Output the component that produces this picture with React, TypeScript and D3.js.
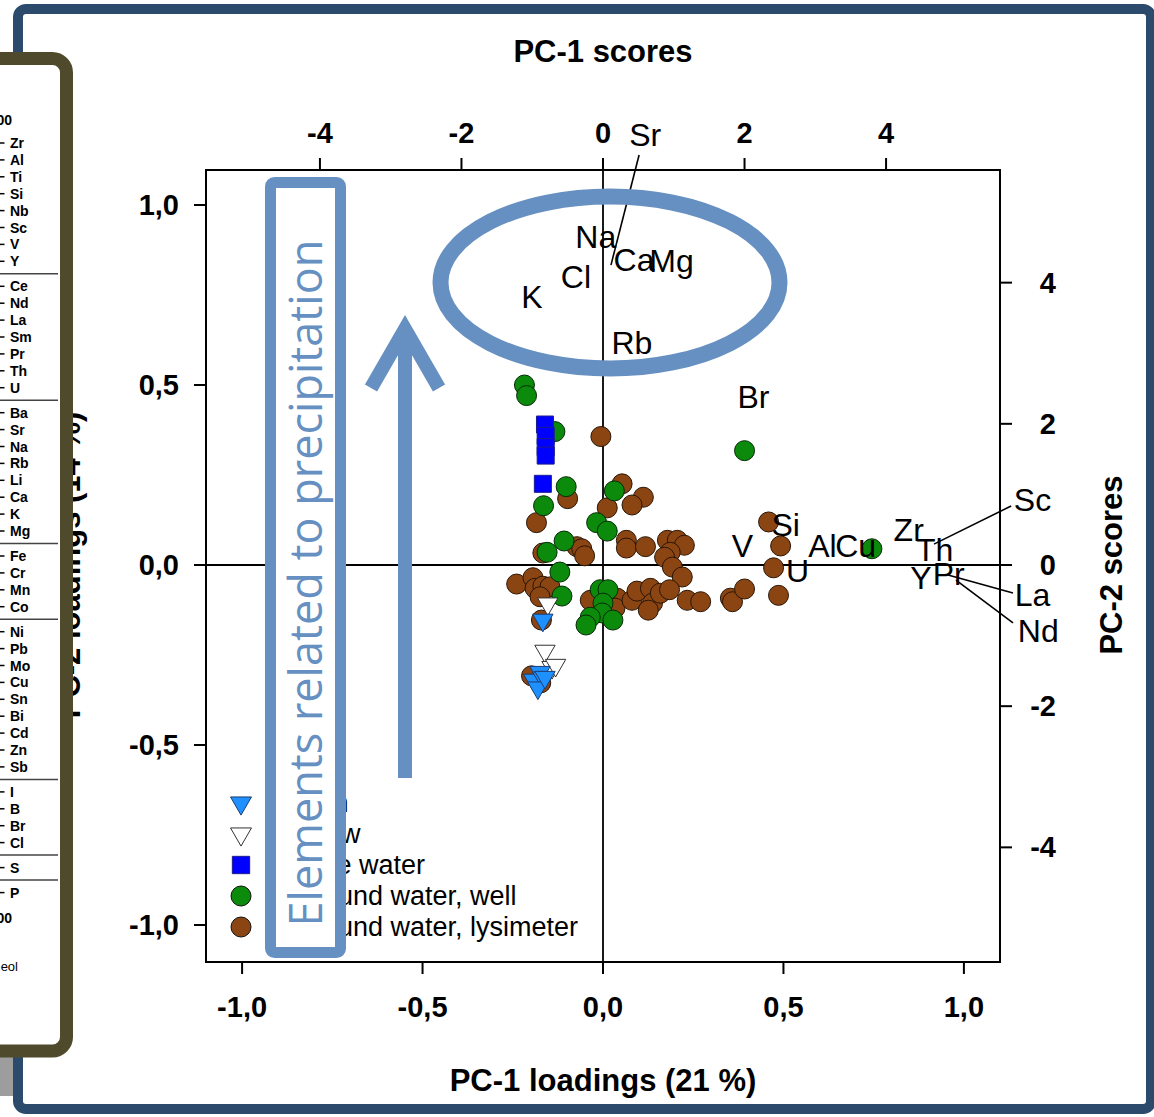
import React from "react";
import * as d3 from "d3";

const W = 1154;
const H = 1117;

// Axis ticks
const loadingTicks = [-1, -0.5, 0, 0.5, 1];
const scoreTicks = [-4, -2, 0, 2, 4];

// Sample scores (PC-1, PC-2) per water type
const rainScores: [number, number][] = [
  [-0.85, -0.78], [-0.89, -1.52], [-0.98, -1.63], [-0.85, -1.6], [-0.92, -1.74], [-0.82, -1.59],
];
const snowScores: [number, number][] = [
  [-0.78, -0.55], [-0.82, -1.22], [-0.72, -1.45], [-0.67, -1.42],
];
const lakeScores: [number, number][] = [
  [-0.82, 1.99], [-0.81, 1.83], [-0.81, 1.67], [-0.81, 1.55], [-0.85, 1.15],
];
const wellScores: [number, number][] = [
  [-1.11, 2.55], [-1.08, 2.4], [-0.68, 1.89], [-0.52, 1.11], [-0.84, 0.84], [0.16, 1.05],
  [-0.09, 0.6], [0.06, 0.48], [-0.55, 0.34], [-0.79, 0.18], [-0.61, -0.1], [-0.58, -0.44],
  [-0.04, -0.35], [0.07, -0.35], [0.0, -0.54], [-0.01, -0.68], [-0.18, -0.74], [-0.24, -0.85],
  [0.14, -0.78], [2.0, 1.62], [3.8, 0.23],
];
const lysimeterScores: [number, number][] = [
  [-0.03, 1.82], [0.27, 1.15], [0.57, 0.96], [0.41, 0.85], [-0.5, 0.94], [0.06, 0.81],
  [-0.94, 0.6], [0.33, 0.35], [0.33, 0.24], [0.6, 0.26], [0.91, 0.35], [1.05, 0.35],
  [1.15, 0.28], [0.95, 0.18], [0.87, 0.11], [0.98, -0.03], [1.12, -0.17], [-0.37, 0.26],
  [-0.3, 0.23], [-0.26, 0.13], [-0.85, 0.17], [-1.22, -0.27], [-0.99, -0.18], [-0.96, -0.33],
  [-0.85, -0.3], [-0.75, -0.31], [-0.89, -0.45], [-0.87, -0.78], [-0.18, -0.5], [0.2, -0.47],
  [0.17, -0.61], [0.41, -0.5], [0.48, -0.37], [0.67, -0.33], [0.7, -0.54], [0.64, -0.64],
  [0.81, -0.4], [0.94, -0.35], [1.19, -0.5], [1.38, -0.52], [1.8, -0.47], [1.83, -0.52],
  [2.0, -0.34], [2.34, 0.61], [2.51, 0.27], [2.41, -0.04], [2.48, -0.43], [-1.01, -1.57],
  [-0.88, -1.67],
];

// Element loadings (PC-1, PC-2) labelled in place
const elementNames = ["Na", "Ca", "Mg", "Cl", "K", "Rb", "Br", "Si", "V", "Al", "Cu", "U", "Zr", "Th", "Y", "Pr"];
const elementPC1 = [-0.02, 0.086, 0.19, -0.075, -0.197, 0.08, 0.417, 0.506, 0.386, 0.608, 0.7, 0.539, 0.847, 0.919, 0.881, 0.958];
const elementPC2 = [0.91, 0.847, 0.845, 0.8, 0.744, 0.617, 0.467, 0.111, 0.053, 0.053, 0.053, -0.017, 0.097, 0.042, -0.036, -0.025];

// Element loadings labelled through a leader line
const leaderNames = ["Sr", "Sc", "La", "Nd"];
const leaderPC1 = [0.022, 0.917, 0.956, 0.978];
const leaderPC2 = [0.833, 0.058, -0.028, -0.042];
const leaderEndPC1 = [0.1, 1.131, 1.136, 1.136];
const leaderEndPC2 = [1.139, 0.164, -0.078, -0.161];
const leaderLabelPC1 = [0.117, 1.19, 1.19, 1.206];
const leaderLabelPC2 = [1.194, 0.18, -0.083, -0.183];

const legendLabels = ["Rain", "Snow", "Lake water", "Ground water, well", "Ground water, lysimeter"];

// Element groups listed in the side panel
const panelGroups = [
  ["Zr", "Al", "Ti", "Si", "Nb", "Sc", "V", "Y"],
  ["Ce", "Nd", "La", "Sm", "Pr", "Th", "U"],
  ["Ba", "Sr", "Na", "Rb", "Li", "Ca", "K", "Mg"],
  ["Fe", "Cr", "Mn", "Co"],
  ["Ni", "Pb", "Mo", "Cu", "Sn", "Bi", "Cd", "Zn", "Sb"],
  ["I", "B", "Br", "Cl"],
  ["S"],
  ["P"],
];

const FONT = "'Liberation Sans', Arial, Helvetica, sans-serif";
const NOTE = "#6690c1";
const GREEN = "#0b8a0b";
const BROWN = "#8b4513";

const locale = d3.formatLocale({ decimal: ",", thousands: ".", grouping: [3], currency: ["", ""], minus: "-" });
const fmtLoad = locale.format(".1f");
const fmtScore = locale.format("d");

export default function App() {
  const left = 206, right = 1000, top = 170, bottom = 962;
  const xL = d3.scaleLinear().domain([-1.1, 1.1]).range([left, right]);
  const yL = d3.scaleLinear().domain([-1.1, 1.1]).range([961, 169]);
  const xS = d3.scaleLinear().domain([-5.61, 5.61]).range([left, right]);
  const yS = d3.scaleLinear().domain([-5.61, 5.61]).range([961, 169]);

  const tri = d3.symbol(d3.symbolTriangle, 180)() as string;
  const sq = d3.symbol(d3.symbolSquare, 289)() as string;
  const legendTri = d3.symbol(d3.symbolTriangle, 190)() as string;
  const legendSq = d3.symbol(d3.symbolSquare, 300)() as string;

  // side panel rows
  const panelRows: { name: string; y: number }[] = [];
  const panelSeps: number[] = [];
  let idx = 0;
  panelGroups.forEach((g, gi) => {
    g.forEach((name) => {
      panelRows.push({ name, y: 143 + 16.9 * idx + 8.1 * gi });
      idx++;
    });
    if (gi < panelGroups.length - 1) {
      const lastY = 143 + 16.9 * (idx - 1) + 8.1 * gi;
      const nextY = 143 + 16.9 * idx + 8.1 * (gi + 1);
      panelSeps.push((lastY + nextY) / 2);
    }
  });

  const legendY = (i: number) => 803 + 31 * i;

  return (
    <svg width={W} height={H} style={{ position: "absolute", left: 0, top: 0, display: "block" }} fontFamily={FONT}>
      <rect x={0} y={0} width={W} height={H} fill="#fff" />
      <rect x={0} y={1040} width={14} height={56} fill="#9d9d9d" />
      <rect x={18} y={9} width={1133} height={1100} rx={8} fill="none" stroke="#2c4a6b" strokeWidth={10} />

      {/* left axis title, mostly under the side panel */}
      <text transform={`translate(80,${yL(0)}) rotate(-90)`} textAnchor="middle" fontSize={31} fontWeight="bold">
        PC-2 loadings (14 %)
      </text>

      {/* plot frame and zero lines */}
      <rect x={left} y={top} width={right - left} height={bottom - top} fill="none" stroke="#000" strokeWidth={2} />
      <line x1={left} x2={right} y1={yL(0)} y2={yL(0)} stroke="#000" strokeWidth={1.8} />
      <line x1={xL(0)} x2={xL(0)} y1={top} y2={bottom} stroke="#000" strokeWidth={1.8} />

      {/* bottom / left loading axes */}
      {loadingTicks.map((v) => (
        <g key={"b" + v}>
          <line x1={xL(v)} x2={xL(v)} y1={bottom} y2={bottom + 12} stroke="#000" strokeWidth={2} />
          <text x={xL(v)} y={1007} textAnchor="middle" dominantBaseline="central" fontSize={29} fontWeight="bold">
            {fmtLoad(v)}
          </text>
          <line x1={left - 12} x2={left} y1={yL(v)} y2={yL(v)} stroke="#000" strokeWidth={2} />
          <text x={179} y={yL(v)} textAnchor="end" dominantBaseline="central" fontSize={29} fontWeight="bold">
            {fmtLoad(v)}
          </text>
        </g>
      ))}
      {/* top / right score axes */}
      {scoreTicks.map((v) => (
        <g key={"t" + v}>
          <line x1={xS(v)} x2={xS(v)} y1={top - 12} y2={top} stroke="#000" strokeWidth={2} />
          <text x={xS(v)} y={133} textAnchor="middle" dominantBaseline="central" fontSize={29} fontWeight="bold">
            {fmtScore(v)}
          </text>
          <line x1={right} x2={right + 12} y1={yS(v)} y2={yS(v)} stroke="#000" strokeWidth={2} />
          <text x={1056} y={yS(v)} textAnchor="end" dominantBaseline="central" fontSize={29} fontWeight="bold">
            {fmtScore(v)}
          </text>
        </g>
      ))}

      <text x={603} y={51} textAnchor="middle" dominantBaseline="central" fontSize={31} fontWeight="bold">
        PC-1 scores
      </text>
      <text x={603} y={1080} textAnchor="middle" dominantBaseline="central" fontSize={31} fontWeight="bold">
        PC-1 loadings (21 %)
      </text>
      <text transform={`translate(1111,${yS(0)}) rotate(-90)`} textAnchor="middle" dominantBaseline="central" fontSize={31} fontWeight="bold">
        PC-2 scores
      </text>

      {/* sample scores */}
      {lysimeterScores.map(([a, b], i) => (
        <circle key={"l" + i} cx={xS(a)} cy={yS(b)} r={10} fill={BROWN} stroke="#2a1505" strokeWidth={1} />
      ))}
      {wellScores.map(([a, b], i) => (
        <circle key={"w" + i} cx={xS(a)} cy={yS(b)} r={10} fill={GREEN} stroke="#062a06" strokeWidth={1} />
      ))}
      {lakeScores.map(([a, b], i) => (
        <path key={"k" + i} d={sq} transform={`translate(${xS(a)},${yS(b)})`} fill="#0000ff" stroke="#1b1b8c" strokeWidth={1} />
      ))}
      {snowScores.map(([a, b], i) => (
        <path key={"s" + i} d={tri} transform={`translate(${xS(a)},${yS(b)}) rotate(180)`} fill="#fff" stroke="#333" strokeWidth={1} />
      ))}
      {rainScores.map(([a, b], i) => (
        <path key={"r" + i} d={tri} transform={`translate(${xS(a)},${yS(b)}) rotate(180)`} fill="#1e90ff" stroke="#1b3c70" strokeWidth={1} />
      ))}

      {/* element loadings */}
      {elementNames.map((n, i) => (
        <text key={n} x={xL(elementPC1[i])} y={yL(elementPC2[i])} textAnchor="middle" dominantBaseline="central" fontSize={32}>
          {n}
        </text>
      ))}
      {leaderNames.map((n, i) => (
        <g key={n}>
          <line x1={xL(leaderPC1[i])} y1={yL(leaderPC2[i])} x2={xL(leaderEndPC1[i])} y2={yL(leaderEndPC2[i])} stroke="#000" strokeWidth={1.6} />
          <text x={xL(leaderLabelPC1[i])} y={yL(leaderLabelPC2[i])} textAnchor="middle" dominantBaseline="central" fontSize={32}>
            {n}
          </text>
        </g>
      ))}

      {/* legend */}
      {legendLabels.map((lab, i) => {
        const y = legendY(i);
        let mark;
        if (i === 0) mark = <path d={legendTri} transform={`translate(241,${y}) rotate(180)`} fill="#1e90ff" stroke="#1b3c70" />;
        else if (i === 1) mark = <path d={legendTri} transform={`translate(241,${y}) rotate(180)`} fill="#fff" stroke="#333" />;
        else if (i === 2) mark = <path d={legendSq} transform={`translate(241,${y})`} fill="#0000ff" stroke="#1b1b8c" />;
        else mark = <circle cx={241} cy={y} r={10} fill={i === 3 ? GREEN : BROWN} stroke="#111" />;
        return (
          <g key={lab}>
            {mark}
            <text x={293} y={y} dominantBaseline="central" fontSize={27}>
              {lab}
            </text>
          </g>
        );
      })}

      {/* annotation overlay */}
      <rect x={270.5} y={182.5} width={70} height={770} rx={4} fill="#fff" stroke={NOTE} strokeWidth={11} />
      <text
        transform="translate(322,583) rotate(-90)"
        textAnchor="middle"
        fontSize={45}
        fill={NOTE}
        fontFamily="'Open Sans', 'Noto Sans', sans-serif"
      >
        Elements related to precipitation
      </text>
      <line x1={405} x2={405} y1={778} y2={336} stroke={NOTE} strokeWidth={14} />
      <polyline points="371,388 405,329 439,388" fill="none" stroke={NOTE} strokeWidth={14} strokeLinejoin="miter" />
      <ellipse cx={610} cy={282.5} rx={169.5} ry={86} fill="none" stroke={NOTE} strokeWidth={16} />

      {/* side panel */}
      <rect x={-20} y={58.5} width={86.5} height={992.5} rx={14} fill="#fff" stroke="#4f4a2b" strokeWidth={13} />
      <text x={12} y={120} textAnchor="end" dominantBaseline="central" fontSize={14} fontWeight="bold">1,00</text>
      {panelRows.map((r) => (
        <g key={"p" + r.name + r.y}>
          <line x1={0} x2={4.5} y1={r.y} y2={r.y} stroke="#000" strokeWidth={1.5} />
          <text x={10} y={r.y} dominantBaseline="central" fontSize={14} fontWeight="bold">
            {r.name}
          </text>
        </g>
      ))}
      {panelSeps.map((y, i) => (
        <line key={"sep" + i} x1={0} x2={58} y1={y} y2={y} stroke="#444" strokeWidth={1.5} />
      ))}
      <text x={12} y={918} textAnchor="end" dominantBaseline="central" fontSize={14} fontWeight="bold">0,00</text>
      <text x={18} y={966} textAnchor="end" dominantBaseline="central" fontSize={13}>Geol</text>
    </svg>
  );
}
